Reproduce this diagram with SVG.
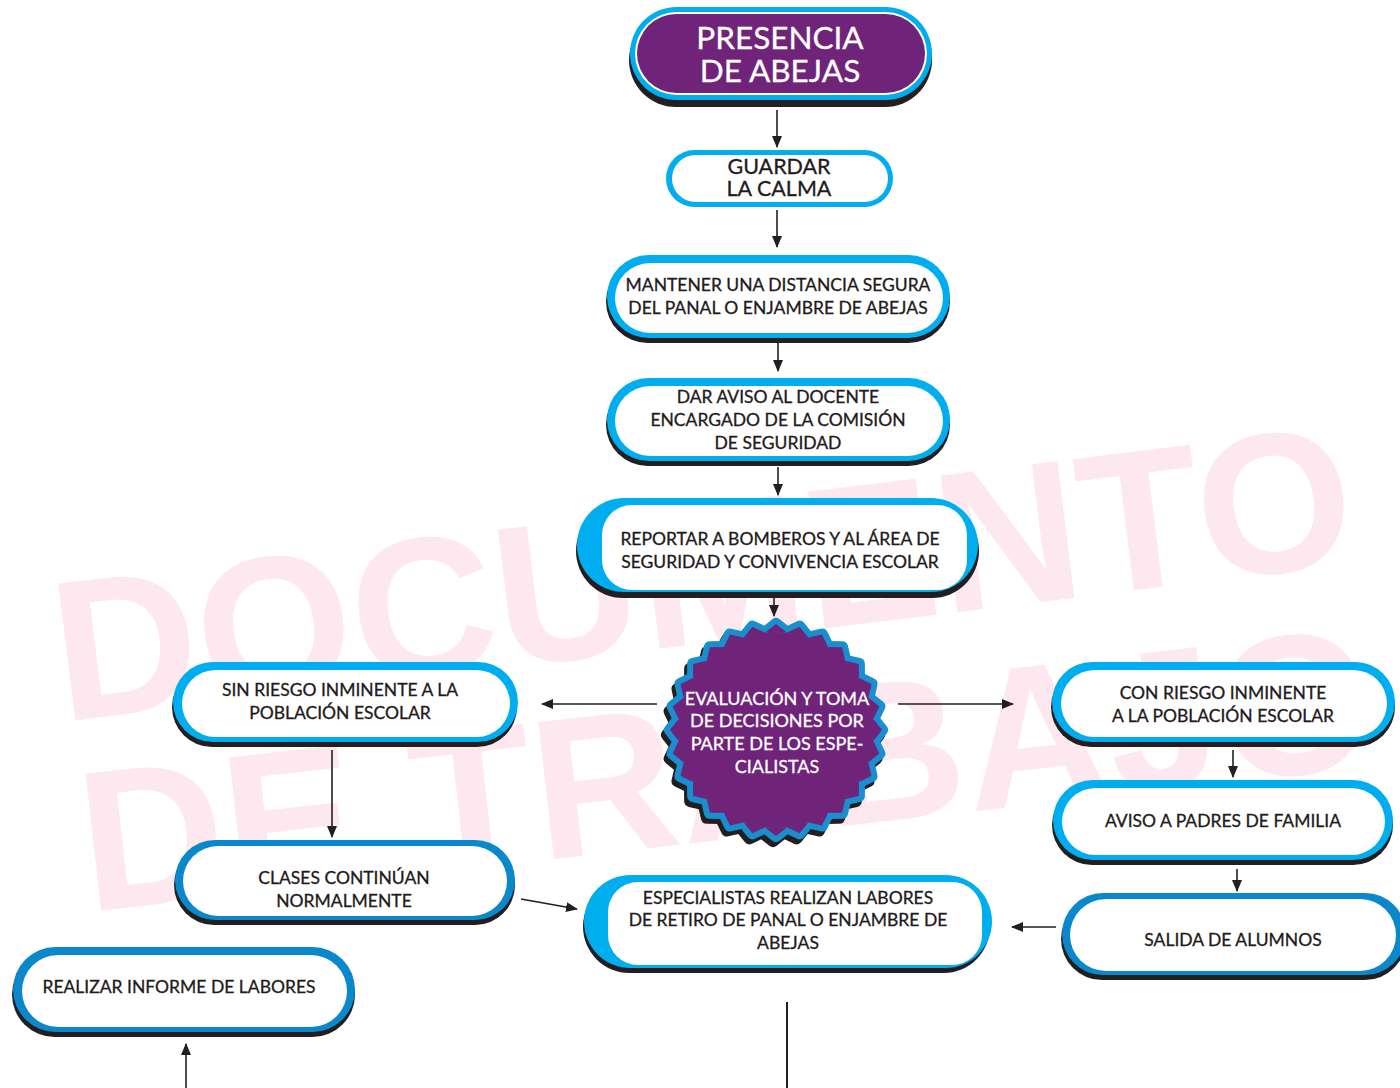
<svg xmlns="http://www.w3.org/2000/svg" xmlns:xlink="http://www.w3.org/1999/xlink" width="1400" height="1088" viewBox="0 0 1400 1088">
<style>
.sh{fill:#231f20}
.cy{fill:#00aeef}
.db{fill:#0a88cb}
.wh{fill:#ffffff}
.pu{fill:#6f2479}
.t{font-family:Lato,"Open Sans","Liberation Sans",sans-serif;font-size:17.5px;fill:#231a20;stroke:#231a20;stroke-width:0.3;text-anchor:middle}
.tw{fill:#ffffff;stroke:#ffffff}
.wm{font-family:"Liberation Sans",Arial,sans-serif;font-weight:bold;font-size:200px;fill:#fce8ee}
.cn{stroke:#231f20;stroke-width:1.6;fill:none}
</style>
<defs>
<marker id="ah" markerUnits="userSpaceOnUse" markerWidth="12" markerHeight="10" refX="11" refY="5" orient="auto">
<path d="M0,0 L12,5 L0,10 Z" fill="#231f20"/>
</marker>
<polygon id="tooth" points="-10.9,-97.4 0,-106 10.9,-97.4"/>
<g id="star">
<circle r="98"/>
<use xlink:href="#tooth"/>
<use xlink:href="#tooth" transform="rotate(12.857)"/>
<use xlink:href="#tooth" transform="rotate(25.714)"/>
<use xlink:href="#tooth" transform="rotate(38.571)"/>
<use xlink:href="#tooth" transform="rotate(51.429)"/>
<use xlink:href="#tooth" transform="rotate(64.286)"/>
<use xlink:href="#tooth" transform="rotate(77.143)"/>
<use xlink:href="#tooth" transform="rotate(90)"/>
<use xlink:href="#tooth" transform="rotate(102.857)"/>
<use xlink:href="#tooth" transform="rotate(115.714)"/>
<use xlink:href="#tooth" transform="rotate(128.571)"/>
<use xlink:href="#tooth" transform="rotate(141.429)"/>
<use xlink:href="#tooth" transform="rotate(154.286)"/>
<use xlink:href="#tooth" transform="rotate(167.143)"/>
<use xlink:href="#tooth" transform="rotate(180)"/>
<use xlink:href="#tooth" transform="rotate(192.857)"/>
<use xlink:href="#tooth" transform="rotate(205.714)"/>
<use xlink:href="#tooth" transform="rotate(218.571)"/>
<use xlink:href="#tooth" transform="rotate(231.429)"/>
<use xlink:href="#tooth" transform="rotate(244.286)"/>
<use xlink:href="#tooth" transform="rotate(257.143)"/>
<use xlink:href="#tooth" transform="rotate(270)"/>
<use xlink:href="#tooth" transform="rotate(282.857)"/>
<use xlink:href="#tooth" transform="rotate(295.714)"/>
<use xlink:href="#tooth" transform="rotate(308.571)"/>
<use xlink:href="#tooth" transform="rotate(321.429)"/>
<use xlink:href="#tooth" transform="rotate(334.286)"/>
<use xlink:href="#tooth" transform="rotate(347.143)"/>
</g>
</defs>
<rect width="1400" height="1088" fill="#ffffff"/>
<g id="watermark">
<text class="wm" x="62" y="722" transform="rotate(-7 62 722)">DOCUMENTO</text>
<text class="wm" x="88" y="912" transform="rotate(-6.5 88 912)">DE TRABAJO</text>
</g>
<g id="connectors">
<line class="cn" x1="777" y1="110" x2="777" y2="147" marker-end="url(#ah)"/>
<line class="cn" x1="777" y1="210" x2="777" y2="247" marker-end="url(#ah)"/>
<line class="cn" x1="778" y1="343" x2="778" y2="371" marker-end="url(#ah)"/>
<line class="cn" x1="778" y1="467" x2="778" y2="495" marker-end="url(#ah)"/>
<line class="cn" x1="774" y1="598" x2="774" y2="616" marker-end="url(#ah)"/>
<line class="cn" x1="657" y1="704" x2="542" y2="704" marker-end="url(#ah)"/>
<line class="cn" x1="898" y1="704" x2="1013" y2="704" marker-end="url(#ah)"/>
<line class="cn" x1="332" y1="750" x2="332" y2="837" marker-end="url(#ah)"/>
<line class="cn" x1="1233" y1="750" x2="1233" y2="777" marker-end="url(#ah)"/>
<line class="cn" x1="1237" y1="869" x2="1237" y2="891" marker-end="url(#ah)"/>
<line class="cn" x1="1056" y1="927" x2="1012" y2="927" marker-end="url(#ah)"/>
<line class="cn" x1="521" y1="899" x2="577" y2="909" marker-end="url(#ah)"/>
<line class="cn" x1="787" y1="1002" x2="787" y2="1088" style="stroke-width:2"/>
<line class="cn" x1="186" y1="1088" x2="186" y2="1044" marker-end="url(#ah)"/>
</g>
<g id="n-presencia">
<rect class="sh" x="629" y="13" width="303" height="94" rx="47"/>
<rect class="cy" x="630" y="7" width="302" height="93" rx="46.5"/>
<rect class="wh" x="635" y="12" width="292" height="83" rx="41.5"/>
<rect class="pu" x="637" y="14" width="288" height="79" rx="39.5"/>
<text class="t tw" style="font-size:31.5px" x="780" y="49">PRESENCIA</text>
<text class="t tw" style="font-size:31.5px" x="780" y="82">DE ABEJAS</text>
</g>
<g id="n-guardar">
<rect class="cy" x="666" y="150" width="227" height="57" rx="28.5"/>
<rect class="wh" x="672" y="155" width="216" height="47" rx="23.5"/>
<text class="t" style="font-size:21.5px" x="779" y="174">GUARDAR</text>
<text class="t" style="font-size:21.5px" x="779" y="196">LA CALMA</text>
</g>
<g id="n-mantener">
<rect class="sh" x="606" y="260" width="344" height="83" rx="41.5"/>
<rect class="cy" x="607" y="255" width="343" height="83" rx="41.5"/>
<rect class="wh" x="615" y="263" width="328" height="70" rx="35"/>
<text class="t" x="778" y="291">MANTENER UNA DISTANCIA SEGURA</text>
<text class="t" x="778" y="314">DEL PANAL O ENJAMBRE DE ABEJAS</text>
</g>
<g id="n-aviso-docente">
<rect class="sh" x="606" y="383" width="344" height="83" rx="41.5"/>
<rect class="cy" x="607" y="378" width="343" height="83" rx="41.5"/>
<rect class="wh" x="615" y="386" width="328" height="70" rx="35"/>
<text class="t" x="778" y="403">DAR AVISO AL DOCENTE</text>
<text class="t" x="778" y="426">ENCARGADO DE LA COMISIÓN</text>
<text class="t" x="778" y="449">DE SEGURIDAD</text>
</g>
<g id="n-reportar">
<rect class="sh" x="576" y="504" width="403" height="94" rx="47"/>
<rect class="cy" x="577" y="498" width="401" height="94" rx="47"/>
<rect class="wh" x="602" y="505" width="365" height="85" rx="30"/>
<text class="t" x="780" y="545">REPORTAR A BOMBEROS Y AL ÁREA DE</text>
<text class="t" x="780" y="568">SEGURIDAD Y CONVIVENCIA ESCOLAR</text>
</g>
<g id="n-evaluacion">
<use xlink:href="#star" transform="translate(773,735)" fill="#231f20" stroke="#231f20" stroke-width="12" stroke-linejoin="round"/>
<use xlink:href="#star" transform="translate(776,730)" fill="#1a8fd0" stroke="#1a8fd0" stroke-width="12" stroke-linejoin="round"/>
<use xlink:href="#star" transform="translate(776,730)" fill="#6f2479"/>
<text class="t tw" style="font-size:18px" x="777" y="705">EVALUACIÓN Y TOMA</text>
<text class="t tw" style="font-size:18px" x="777" y="727">DE DECISIONES POR</text>
<text class="t tw" style="font-size:18px" x="777" y="750">PARTE DE LOS ESPE-</text>
<text class="t tw" style="font-size:18px" x="777" y="773">CIALISTAS</text>
</g>
<g id="n-sin-riesgo">
<rect class="sh" x="172" y="667" width="345" height="80" rx="40"/>
<rect class="cy" x="173" y="662" width="345" height="80" rx="40"/>
<rect class="wh" x="182" y="670" width="328" height="67" rx="33.5"/>
<text class="t" x="340" y="696">SIN RIESGO INMINENTE A LA</text>
<text class="t" x="340" y="719">POBLACIÓN ESCOLAR</text>
</g>
<g id="n-con-riesgo">
<rect class="sh" x="1051" y="667" width="344" height="80" rx="40"/>
<rect class="cy" x="1052" y="662" width="343" height="80" rx="40"/>
<rect class="wh" x="1061" y="670" width="326" height="67" rx="33.5"/>
<text class="t" x="1223" y="699">CON RIESGO INMINENTE</text>
<text class="t" x="1223" y="722">A LA POBLACIÓN ESCOLAR</text>
</g>
<g id="n-aviso-padres">
<rect class="sh" x="1052" y="785" width="341" height="80" rx="40"/>
<rect class="cy" x="1053" y="780" width="340" height="80" rx="40"/>
<rect class="wh" x="1062" y="788" width="323" height="67" rx="33.5"/>
<text class="t" x="1223" y="827">AVISO A PADRES DE FAMILIA</text>
</g>
<g id="n-salida">
<rect class="sh" x="1061" y="898" width="345" height="82" rx="41"/>
<rect class="db" x="1062" y="893" width="344" height="82" rx="41"/>
<rect class="wh" x="1070" y="899" width="326" height="72" rx="36"/>
<text class="t" x="1233" y="946">SALIDA DE ALUMNOS</text>
</g>
<g id="n-clases">
<rect class="sh" x="174" y="845" width="341" height="80" rx="40"/>
<rect class="db" x="175" y="840" width="340" height="80" rx="40"/>
<rect class="wh" x="183" y="846" width="324" height="70" rx="35"/>
<text class="t" x="344" y="884">CLASES CONTINÚAN</text>
<text class="t" x="344" y="907">NORMALMENTE</text>
</g>
<g id="n-especialistas">
<rect class="sh" x="583" y="880" width="407" height="93" rx="46.5"/>
<rect class="cy" x="584" y="875" width="408" height="93" rx="46.5"/>
<rect class="wh" x="608" y="882" width="374" height="83" rx="30"/>
<text class="t" x="788" y="904">ESPECIALISTAS REALIZAN LABORES</text>
<text class="t" x="788" y="926">DE RETIRO DE PANAL O ENJAMBRE DE</text>
<text class="t" x="788" y="949">ABEJAS</text>
</g>
<g id="n-realizar">
<rect class="sh" x="12" y="952" width="343" height="85" rx="42.5"/>
<rect class="db" x="13" y="947" width="342" height="85" rx="42.5"/>
<rect class="wh" x="22" y="955" width="325" height="72" rx="36"/>
<text class="t" x="179" y="993">REALIZAR INFORME DE LABORES</text>
</g>
</svg>
